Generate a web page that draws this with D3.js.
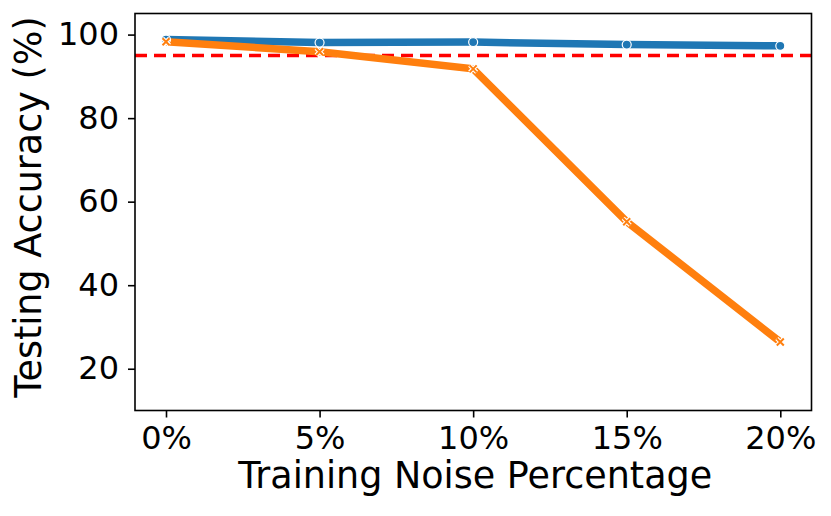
<!DOCTYPE html>
<html><head><meta charset="utf-8">
<script src="https://cdn.jsdelivr.net/npm/d3@7"></script>
<style>body{margin:0;background:#fff}text{font-family:"DejaVu Sans",sans-serif}</style>
</head><body><svg id="c" width="831" height="516"></svg>
<script>
const categories = ["0%","5%","10%","15%","20%"];
const seriesA = [98.8, 98.1, 98.2, 97.6, 97.3];
const seriesB = [98.3, 95.9, 91.8, 55.2, 26.4];
const threshold = 95;
const yTicks = [20,40,60,80,100];

const svg = d3.select("#c");
const L=135, R=811.5, T=13.5, B=410.5;
const x = d3.scalePoint().domain(categories).range([166,780.3]);
const y = d3.scaleLinear().domain([10,105.05]).range([B,T]);

// threshold
svg.append("line").attr("x1",L).attr("x2",R).attr("y1",y(threshold)).attr("y2",y(threshold))
  .attr("stroke","#ff0000").attr("stroke-width",3.4).attr("stroke-dasharray","12,7");

const line = d3.line().x((d,i)=>x(categories[i])).y(d=>y(d));
svg.append("path").datum(seriesA).attr("d",line).attr("fill","none").attr("stroke","#1f77b4").attr("stroke-width",7.5);
svg.append("path").datum(seriesB).attr("d",line).attr("fill","none").attr("stroke","#ff7f0e").attr("stroke-width",7.5);

svg.selectAll("circle.a").data(seriesA).enter().append("circle")
  .attr("cx",(d,i)=>x(categories[i])).attr("cy",d=>y(d)).attr("r",4.5)
  .attr("fill","#1f77b4").attr("stroke","#fff").attr("stroke-width",1.2);
const xs=3.5;
const xPath=(d,i)=>{const cx=x(categories[i]),cy=y(d);return `M${cx-xs},${cy-xs}L${cx+xs},${cy+xs}M${cx-xs},${cy+xs}L${cx+xs},${cy-xs}`;};
svg.selectAll("path.b").data(seriesB).enter().append("path").attr("class","b")
  .attr("d",xPath).attr("stroke","#fff").attr("stroke-width",4.2).attr("fill","none");
svg.selectAll("path.b2").data(seriesB).enter().append("path").attr("class","b2")
  .attr("d",xPath).attr("stroke","#ff7f0e").attr("stroke-width",2).attr("fill","none");

// frame
svg.append("rect").attr("x",L).attr("y",T).attr("width",R-L).attr("height",B-T)
  .attr("fill","none").attr("stroke","#000").attr("stroke-width",1.6);

const xa = svg.append("g").attr("transform",`translate(0,${B})`)
  .call(d3.axisBottom(x).tickSize(7).tickPadding(9));
const ya = svg.append("g").attr("transform",`translate(${L},0)`)
  .call(d3.axisLeft(y).tickValues(yTicks).tickSize(7).tickPadding(9));
[xa,ya].forEach(g=>{g.select(".domain").remove();
  g.selectAll(".tick line").attr("stroke","#000").attr("stroke-width",1.6);
  g.selectAll("text").attr("font-size",32).attr("fill","#000").attr("font-family","DejaVu Sans");});

svg.append("text").attr("x",(L+R)/2 + 2).attr("y",488).attr("text-anchor","middle")
  .attr("font-size",36.5).text("Training Noise Percentage");
svg.append("text").attr("transform",`translate(41,${(T+B)/2 - 5}) rotate(-90)`).attr("text-anchor","middle")
  .attr("font-size",36.5).text("Testing Accuracy (%)");
</script></body></html>
